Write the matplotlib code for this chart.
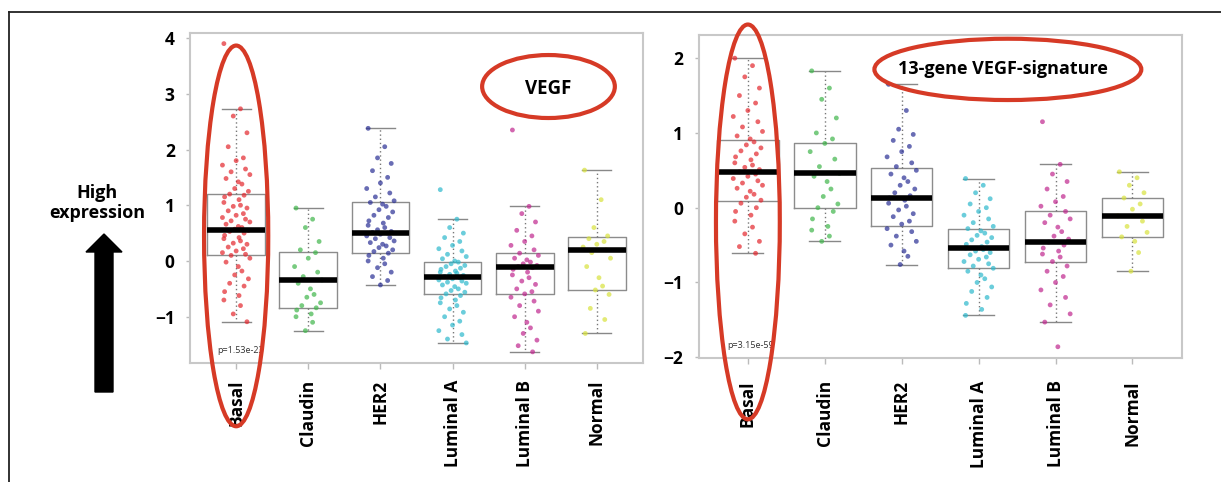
import matplotlib.pyplot as plt
from matplotlib.patches import Ellipse, FancyArrow
from matplotlib.lines import Line2D

plt.rcParams['font.family'] = ['Open Sans', 'DejaVu Sans']

subtypes = ["Basal", "Claudin", "HER2", "Luminal A", "Luminal B", "Normal"]
colors = ["#e3262d", "#3fb54a", "#2a2f95", "#2db8cc", "#c0268e", "#d8e23c"]

# jitter offsets, cycled over the points of each group
jitter = [-0.17, 0.06, -0.04, 0.15, -0.11, 0.10, 0.00, -0.19, 0.13, -0.07,
          0.19, -0.14, 0.03, 0.08, -0.02, 0.17, -0.09, 0.11, -0.16, 0.04]

# ---- VEGF panel (left) ----
vegf_basal = [3.9, 2.73, 2.6, 2.3, 2.05, 1.85, 1.8, 1.72, 1.65, 1.6, 1.55, 1.48, 1.42,
              1.38, 1.3, 1.25, 1.2, 1.18, 1.15, 1.1, 1.05, 1.0, 0.98, 0.95, 0.9, 0.85,
              0.82, 0.78, 0.75, 0.72, 0.7, 0.66, 0.62, 0.6, 0.57, 0.55, 0.53, 0.5, 0.46,
              0.42, 0.4, 0.36, 0.32, 0.3, 0.25, 0.22, 0.18, 0.15, 0.12, 0.1, 0.05, -0.02,
              -0.1, -0.18, -0.25, -0.32, -0.4, -0.45, -0.55, -0.62, -0.7, -0.8, -0.95, -1.09]
vegf_claudin = [0.95, 0.75, 0.6, 0.35, 0.2, 0.15, 0.05, -0.1, -0.2, -0.28, -0.34, -0.4,
                -0.5, -0.6, -0.65, -0.75, -0.8, -0.84, -0.88, -0.95, -1.0, -1.1, -1.25]
vegf_her2 = [2.38, 2.05, 1.85, 1.75, 1.62, 1.5, 1.4, 1.3, 1.22, 1.15, 1.08, 1.05, 1.02,
             0.98, 0.92, 0.88, 0.82, 0.78, 0.72, 0.68, 0.64, 0.6, 0.56, 0.53, 0.51, 0.5,
             0.48, 0.45, 0.42, 0.4, 0.36, 0.33, 0.3, 0.27, 0.24, 0.2, 0.17, 0.14, 0.1,
             0.05, 0.0, -0.05, -0.12, -0.2, -0.28, -0.35, -0.43]
vegf_luma = [1.28, 0.75, 0.6, 0.5, 0.42, 0.35, 0.28, 0.22, 0.18, 0.12, 0.08, 0.04, 0.0,
             -0.02, -0.05, -0.08, -0.1, -0.13, -0.15, -0.18, -0.2, -0.22, -0.24, -0.26,
             -0.28, -0.3, -0.32, -0.34, -0.36, -0.38, -0.4, -0.43, -0.46, -0.5, -0.53,
             -0.56, -0.59, -0.62, -0.66, -0.7, -0.75, -0.8, -0.86, -0.92, -1.0, -1.08,
             -1.15, -1.25, -1.32, -1.4, -1.47]
vegf_lumb = [2.35, 0.98, 0.85, 0.7, 0.55, 0.45, 0.35, 0.28, 0.2, 0.14, 0.1, 0.05, 0.02,
             -0.02, -0.05, -0.08, -0.1, -0.12, -0.15, -0.2, -0.25, -0.3, -0.36, -0.42,
             -0.5, -0.55, -0.59, -0.65, -0.72, -0.8, -0.9, -1.0, -1.1, -1.2, -1.3, -1.42,
             -1.52, -1.63]
vegf_normal = [1.63, 1.1, 0.6, 0.45, 0.4, 0.35, 0.3, 0.25, 0.2, 0.15, 0.05, -0.1, -0.3,
               -0.45, -0.52, -0.6, -0.85, -1.05, -1.3]
vegf_q1 = [0.10, -0.84, 0.14, -0.59, -0.59, -0.52]
vegf_med = [0.55, -0.34, 0.50, -0.28, -0.10, 0.20]
vegf_q3 = [1.21, 0.17, 1.05, -0.02, 0.14, 0.43]
vegf_lo = [-1.09, -1.25, -0.43, -1.47, -1.63, -1.30]
vegf_hi = [2.73, 0.95, 2.38, 0.75, 0.98, 1.63]

# ---- 13-gene VEGF-signature panel (right) ----
sig_basal = [2.0, 1.9, 1.75, 1.6, 1.5, 1.4, 1.3, 1.22, 1.15, 1.08, 1.02, 0.96, 0.92, 0.88,
             0.84, 0.8, 0.76, 0.72, 0.68, 0.64, 0.6, 0.57, 0.54, 0.51, 0.48, 0.45, 0.42,
             0.39, 0.36, 0.33, 0.3, 0.26, 0.22, 0.18, 0.14, 0.1, 0.06, 0.0, -0.05, -0.1,
             -0.18, -0.26, -0.35, -0.45, -0.52, -0.61]
sig_claudin = [1.83, 1.6, 1.45, 1.2, 1.0, 0.92, 0.86, 0.75, 0.65, 0.55, 0.46, 0.42, 0.35,
               0.25, 0.15, 0.05, 0.0, -0.05, -0.15, -0.25, -0.3, -0.38, -0.45]
sig_her2 = [1.65, 1.3, 1.05, 0.98, 0.9, 0.82, 0.75, 0.68, 0.6, 0.55, 0.5, 0.45, 0.4, 0.35,
            0.3, 0.25, 0.2, 0.16, 0.13, 0.1, 0.06, 0.02, -0.03, -0.08, -0.12, -0.18,
            -0.22, -0.28, -0.32, -0.38, -0.45, -0.5, -0.58, -0.65, -0.76]
sig_luma = [0.39, 0.3, 0.2, 0.12, 0.05, 0.0, -0.05, -0.1, -0.15, -0.2, -0.25, -0.28, -0.31,
            -0.34, -0.37, -0.4, -0.43, -0.46, -0.49, -0.52, -0.54, -0.56, -0.58, -0.6,
            -0.63, -0.66, -0.69, -0.72, -0.75, -0.78, -0.81, -0.85, -0.9, -0.95, -1.0,
            -1.06, -1.12, -1.2, -1.28, -1.36, -1.44]
sig_lumb = [1.15, 0.58, 0.45, 0.35, 0.25, 0.15, 0.08, 0.02, -0.05, -0.1, -0.15, -0.2,
            -0.26, -0.32, -0.38, -0.42, -0.46, -0.5, -0.54, -0.58, -0.62, -0.66, -0.72,
            -0.78, -0.85, -0.92, -1.0, -1.1, -1.2, -1.3, -1.42, -1.53, -1.86]
sig_normal = [0.48, 0.4, 0.3, 0.2, 0.13, 0.05, -0.02, -0.11, -0.18, -0.25, -0.33, -0.39,
              -0.45, -0.6, -0.85]
sig_q1 = [0.09, 0.00, -0.25, -0.81, -0.72, -0.39]
sig_med = [0.48, 0.46, 0.13, -0.54, -0.46, -0.11]
sig_q3 = [0.90, 0.86, 0.53, -0.28, -0.05, 0.13]
sig_lo = [-0.61, -0.45, -0.76, -1.44, -1.53, -0.85]
sig_hi = [2.00, 1.83, 1.65, 0.39, 0.58, 0.48]

RED = "#d63a26"


def draw_panel(ax, groups, q1, med, q3, lo, hi, ylim, yticks, pval, pval_xy, xpad):
    positions = list(range(1, len(subtypes) + 1))
    stats = []
    for i in range(len(subtypes)):
        stats.append(dict(med=med[i], q1=q1[i], q3=q3[i],
                          whislo=lo[i], whishi=hi[i], fliers=[]))
    ax.bxp(stats, positions=positions, widths=0.8, capwidths=0.4, showfliers=False,
           boxprops=dict(color="#8c8c8c", lw=1),
           medianprops=dict(color="black", lw=4, solid_capstyle="butt", zorder=5),
           whiskerprops=dict(color="#777777", lw=1, ls=(0, (1, 2))),
           capprops=dict(color="#888888", lw=1))
    for pos, vals, c in zip(positions, groups, colors):
        xs = [pos + jitter[k % len(jitter)] for k in range(len(vals))]
        ax.scatter(xs, vals, s=12, color=c, alpha=0.7, edgecolors="none", zorder=3)

    ax.set_xlim(0.36, 6.64)
    ax.set_ylim(*ylim)
    ax.set_yticks(yticks)
    ax.set_xticks(positions)
    ax.set_xticklabels(subtypes, rotation=90, fontsize=12.5, fontweight="bold")
    ax.set_yticklabels([f"{t}".replace("-", "\u2212") for t in yticks],
                       fontsize=12.5, fontweight="bold")
    ax.tick_params(axis="y", length=3, width=1, color="#bbbbbb", pad=8)
    ax.tick_params(axis="x", length=4, width=1, color="#bbbbbb", pad=xpad)
    for s in ax.spines.values():
        s.set_color("#c8c8c8")
        s.set_linewidth(1.5)
    ax.text(pval_xy[0], pval_xy[1], pval, fontsize=6.5, color="#333333",
            ha="center", va="center", zorder=6)


fig = plt.figure(figsize=(12.21, 4.82), dpi=100)

# overlay in pixel units for the frame and the arrow
ov = fig.add_axes([0, 0, 1, 1])
ov.set_xlim(0, 1221)
ov.set_ylim(482, 0)
ov.axis("off")
ov.add_line(Line2D([9, 1221], [12, 12], color="#222222", lw=1.3))
ov.add_line(Line2D([9, 9], [12, 482], color="#222222", lw=1.3))
ov.add_patch(FancyArrow(104, 392, 0, -158, width=18, head_width=36, head_length=18,
                        length_includes_head=True, color="black"))
ov.text(97, 203, "High\nexpression", ha="center", va="center", fontsize=13,
        fontweight="bold", linespacing=1.2)

ax1 = fig.add_axes([0.1556, 0.2469, 0.3710, 0.6846])
draw_panel(ax1, [vegf_basal, vegf_claudin, vegf_her2, vegf_luma, vegf_lumb, vegf_normal],
           vegf_q1, vegf_med, vegf_q3, vegf_lo, vegf_hi,
           (-1.83, 4.09), [-1, 0, 1, 2, 3, 4], "p=1.53e-23", (1.06, -1.61), 8)
ax1.add_patch(Ellipse((1.0, 0.45), 0.89, 6.83, fill=False, ec=RED, lw=3,
                      clip_on=False, zorder=7))
ax1.add_patch(Ellipse((5.33, 3.13), 1.84, 1.13, fill=False, ec=RED, lw=3,
                      clip_on=False, zorder=7))
ax1.text(5.32, 3.08, "VEGF", ha="center", va="center", fontsize=13.5,
         fontweight="bold", zorder=8)

ax2 = fig.add_axes([0.5722, 0.2573, 0.3956, 0.6701])
draw_panel(ax2, [sig_basal, sig_claudin, sig_her2, sig_luma, sig_lumb, sig_normal],
           sig_q1, sig_med, sig_q3, sig_lo, sig_hi,
           (-2.01, 2.31), [-2, -1, 0, 1, 2], "p=3.15e-59", (1.03, -1.84), 12)
ax2.add_patch(Ellipse((1.0, -0.19), 0.83, 5.28, fill=False, ec=RED, lw=3,
                      clip_on=False, zorder=7))
ax2.add_patch(Ellipse((4.38, 1.85), 3.47, 0.82, fill=False, ec=RED, lw=3,
                      clip_on=False, zorder=7))
ax2.text(4.32, 1.85, "13-gene VEGF-signature", ha="center", va="center",
         fontsize=13, fontweight="bold", zorder=8)

fig.savefig("out.png", dpi=100)
